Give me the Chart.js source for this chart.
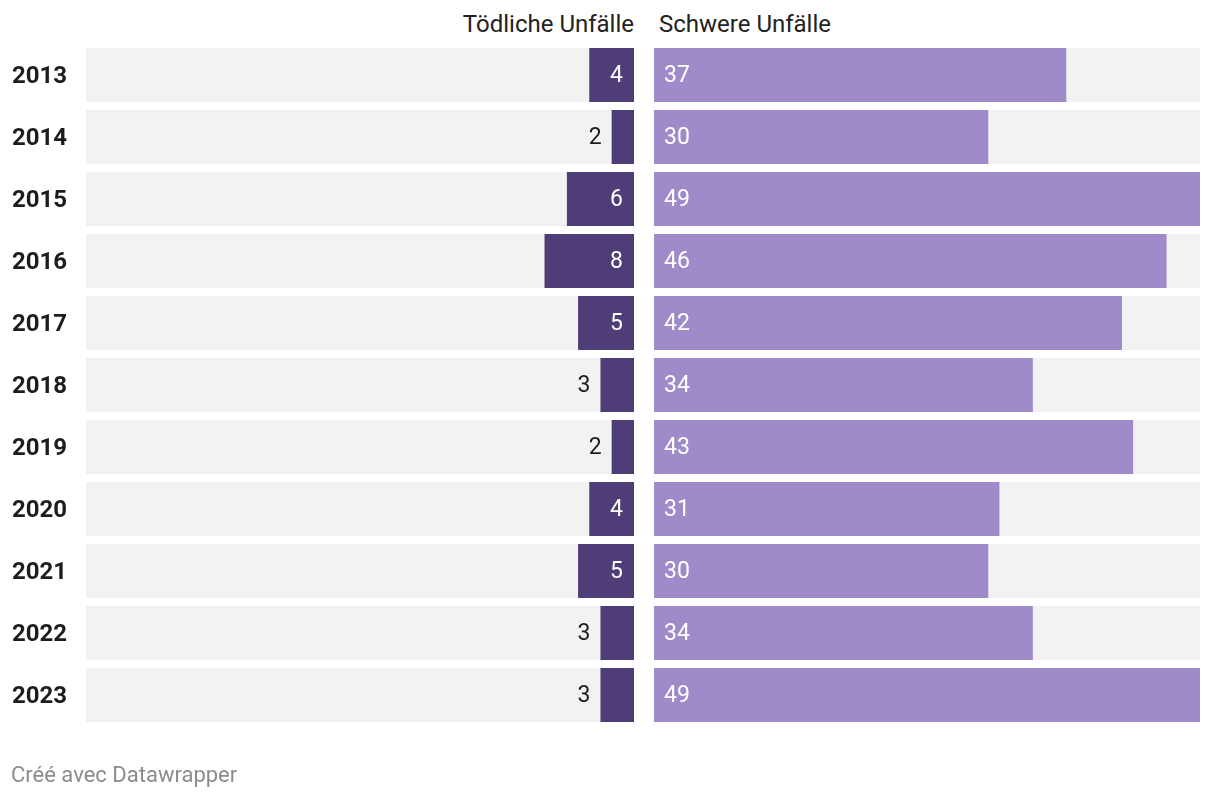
<!DOCTYPE html>
<html>
<head>
<meta charset="utf-8">
<script src="https://cdn.jsdelivr.net/npm/chart.js@4.4.1/dist/chart.umd.min.js"></script>
<style>
  html, body { margin: 0; padding: 0; background: #fff; }
  body { width: 1220px; height: 798px; position: relative; overflow: hidden; font-family: Roboto, "Noto Sans", sans-serif; }
  #wrapL { position: absolute; left: 0; top: 0; width: 644px; height: 798px; }
  #wrapR { position: absolute; left: 644px; top: 0; width: 576px; height: 798px; }
  .hdr { position: absolute; top: 10px; font-size: 24px; color: #222; line-height: 28px; white-space: nowrap; }
  #hL { right: calc(1220px - 634px); }
  #hR { left: 659px; }
  #foot { position: absolute; left: 11px; top: 762px; font-size: 22px; color: #8c8c8c; line-height: 26px; }
</style>
</head>
<body>
<div class="hdr" id="hL">Tödliche Unfälle</div>
<div class="hdr" id="hR">Schwere Unfälle</div>
<div id="wrapL"><canvas id="cL"></canvas></div>
<div id="wrapR"><canvas id="cR"></canvas></div>
<div id="foot">Créé avec Datawrapper</div>
<script>
const years = ['2013','2014','2015','2016','2017','2018','2019','2020','2021','2022','2023'];
const fatal = [4, 2, 6, 8, 5, 3, 2, 4, 5, 3, 3];
const serious = [37, 30, 49, 46, 42, 34, 43, 31, 30, 34, 49];
const scaleMax = 49;

const DARK = '#4e3d77';
const LIGHT = '#9f8bca';
const TRACK = '#f2f2f2';
const FONT = 'Roboto, "Noto Sans", sans-serif';

const trackPlugin = {
  id: 'track',
  beforeDatasetsDraw(chart) {
    const ctx = chart.ctx, a = chart.chartArea;
    const meta = chart.getDatasetMeta(0);
    ctx.save();
    ctx.fillStyle = TRACK;
    meta.data.forEach(el => {
      const h = el.height;
      ctx.fillRect(a.left, el.y - h / 2, a.right - a.left, h);
    });
    ctx.restore();
  }
};

function labelPlugin(side) {
  return {
    id: 'vlabels',
    afterDatasetsDraw(chart) {
      const ctx = chart.ctx;
      const meta = chart.getDatasetMeta(0);
      const vals = chart.data.datasets[0].data;
      ctx.save();
      ctx.font = '23px ' + FONT;
      ctx.textBaseline = 'middle';
      meta.data.forEach((el, i) => {
        const txt = String(vals[i]);
        const tw = ctx.measureText(txt).width;
        const w = Math.abs(el.x - el.base);
        const y = el.y + 1;
        if (side === 'left') {
          if (tw + 22 < w) {
            ctx.fillStyle = '#ffffff';
            ctx.textAlign = 'right';
            ctx.fillText(txt, el.base - 11, y);
          } else {
            ctx.fillStyle = '#1d1d1d';
            ctx.textAlign = 'right';
            ctx.fillText(txt, el.x - 10, y);
          }
        } else {
          ctx.fillStyle = '#ffffff';
          ctx.textAlign = 'left';
          ctx.fillText(txt, el.base + 10, y);
        }
      });
      ctx.restore();
    }
  };
}

const common = {
  indexAxis: 'y',
  responsive: true,
  maintainAspectRatio: false,
  animation: false,
  plugins: { legend: { display: false }, tooltip: { enabled: false } },
};

new Chart(document.getElementById('cL'), {
  type: 'bar',
  data: {
    labels: years,
    datasets: [{ data: fatal, backgroundColor: DARK, borderWidth: 0, categoryPercentage: 1, barPercentage: 54 / 62 }]
  },
  options: Object.assign({}, common, {
    layout: { padding: { left: 12, right: 10, top: 44, bottom: 72 } },
    scales: {
      x: { type: 'linear', min: 0, max: scaleMax, reverse: true, display: false },
      y: {
        grid: { display: false }, border: { display: false },
        afterFit(s) { s.width = 74; },
        ticks: { crossAlign: 'far', padding: 0, labelOffset: 1.5, color: '#1d1d1d', font: { family: FONT, size: 24, weight: 'bold' } }
      }
    }
  }),
  plugins: [trackPlugin, labelPlugin('left')]
});

new Chart(document.getElementById('cR'), {
  type: 'bar',
  data: {
    labels: years,
    datasets: [{ data: serious, backgroundColor: LIGHT, borderWidth: 0, categoryPercentage: 1, barPercentage: 54 / 62 }]
  },
  options: Object.assign({}, common, {
    layout: { padding: { left: 10, right: 20, top: 44, bottom: 72 } },
    scales: {
      x: { type: 'linear', min: 0, max: scaleMax, display: false },
      y: { display: false }
    }
  }),
  plugins: [trackPlugin, labelPlugin('right')]
});
</script>
</body>
</html>
